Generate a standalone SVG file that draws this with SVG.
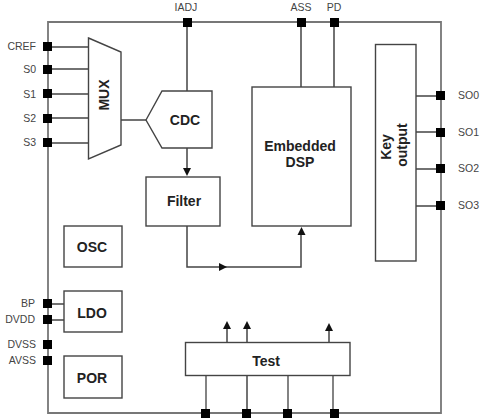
<svg xmlns="http://www.w3.org/2000/svg" width="483" height="419" viewBox="0 0 483 419">
<style>
text{font-family:"Liberation Sans",Arial,sans-serif;fill:#2a2a2a}
.b{font-weight:bold;font-size:14px;text-anchor:middle;fill:#222}
.p{font-size:10.5px;fill:#444}
.e{text-anchor:end}
.box{fill:#fff;stroke:#444;stroke-width:1.4}
.w{fill:none;stroke:#444;stroke-width:1.5}
.g{fill:none;stroke:#777;stroke-width:1.8}
.pin{fill:#000}
.ah{fill:#111}
</style>
<g id="connectors">
<path class="g" d="M48 22H441V413H48Z"/>
<path class="w" d="M48 47H89M48 69H89M48 94H89M48 118H89M48 143H89M121 120H146"/>
<path class="w" d="M187 22V91M187 148V170"/>
<path class="w" d="M301 22V87M334 22V87"/>
<path class="w" d="M416 96H441M416 132H441M416 169H441M416 206H441"/>
<path class="w" d="M187 226V267H301V234"/>
<path class="w" d="M48 304H64M48 320H64"/>
<path class="w" d="M227 342V328M247 342V328M329 342V330"/>
<path class="g" d="M206 375V413M288 375V413M333 375V413"/>
<path class="w" d="M247 375V413"/>
<path class="ah" d="M187 176L183 168H191Z"/>
<path class="ah" d="M301.500 227L297.500 235H305.500Z"/>
<path class="ah" d="M227 267L219 263V271Z"/>
<path class="ah" d="M227 321L223 329H231Z"/>
<path class="ah" d="M247 321L243 329H251Z"/>
<path class="ah" d="M329 323L325 331H333Z"/>
</g>
<g id="pins">
<rect class="pin" x="183" y="18" width="9" height="9"/>
<rect class="pin" x="297" y="18" width="9" height="9"/>
<rect class="pin" x="330" y="18" width="9" height="9"/>
<rect class="pin" x="43" y="42" width="9" height="9"/>
<rect class="pin" x="43" y="65" width="9" height="9"/>
<rect class="pin" x="43" y="89" width="9" height="9"/>
<rect class="pin" x="43" y="114" width="9" height="9"/>
<rect class="pin" x="43" y="138" width="9" height="9"/>
<rect class="pin" x="43" y="299" width="9" height="9"/>
<rect class="pin" x="43" y="315" width="9" height="9"/>
<rect class="pin" x="43" y="340" width="9" height="9"/>
<rect class="pin" x="43" y="356" width="9" height="9"/>
<rect class="pin" x="436" y="91" width="9" height="9"/>
<rect class="pin" x="436" y="128" width="9" height="9"/>
<rect class="pin" x="436" y="164" width="9" height="9"/>
<rect class="pin" x="436" y="201" width="9" height="9"/>
<rect class="pin" x="201" y="409" width="9" height="9"/>
<rect class="pin" x="242" y="409" width="9" height="9"/>
<rect class="pin" x="283" y="409" width="9" height="9"/>
<rect class="pin" x="330" y="409" width="9" height="9"/>
</g>
<g id="labels">
<text class="p" x="186" y="11" text-anchor="middle">IADJ</text>
<text class="p" x="301" y="11" text-anchor="middle">ASS</text>
<text class="p" x="334" y="11" text-anchor="middle">PD</text>
<text class="p e" x="36" y="50">CREF</text>
<text class="p e" x="36" y="73">S0</text>
<text class="p e" x="36" y="98">S1</text>
<text class="p e" x="36" y="122">S2</text>
<text class="p e" x="36" y="146">S3</text>
<text class="p e" x="35" y="307">BP</text>
<text class="p e" x="35" y="323">DVDD</text>
<text class="p e" x="36" y="348">DVSS</text>
<text class="p e" x="36" y="364">AVSS</text>
<text class="p" x="458" y="99">SO0</text>
<text class="p" x="458" y="136">SO1</text>
<text class="p" x="458" y="172">SO2</text>
<text class="p" x="458" y="209">SO3</text>
</g>
<g id="mux"><path class="box" d="M88.500 38L121 52V145L88.500 159Z"/><text class="b" transform="translate(109 95) rotate(-90)">MUX</text></g>
<g id="cdc"><path class="box" d="M146 120L162 91H212V148H162Z"/><text class="b" x="185" y="125">CDC</text></g>
<g id="filter"><rect class="box" x="146" y="177" width="74" height="49"/><text class="b" x="184" y="206">Filter</text></g>
<g id="dsp"><rect class="box" x="252" y="87" width="99" height="139"/><text class="b" x="300" y="151">Embedded</text><text class="b" x="300" y="167">DSP</text></g>
<g id="key"><rect class="box" x="375.500" y="44.500" width="40.500" height="216.500"/><text class="b" transform="translate(391 147) rotate(-90)">Key</text><text class="b" transform="translate(407 145) rotate(-90)">output</text></g>
<g id="osc"><rect class="box" x="64" y="226" width="58" height="41"/><text class="b" x="92" y="252">OSC</text></g>
<g id="ldo"><rect class="box" x="64" y="291" width="58" height="41"/><text class="b" x="92" y="318">LDO</text></g>
<g id="por"><rect class="box" x="64" y="356" width="58" height="42"/><text class="b" x="92" y="383">POR</text></g>
<g id="test"><rect class="box" x="185.500" y="342.500" width="164.500" height="33"/><text class="b" x="266" y="366">Test</text></g>
</svg>
